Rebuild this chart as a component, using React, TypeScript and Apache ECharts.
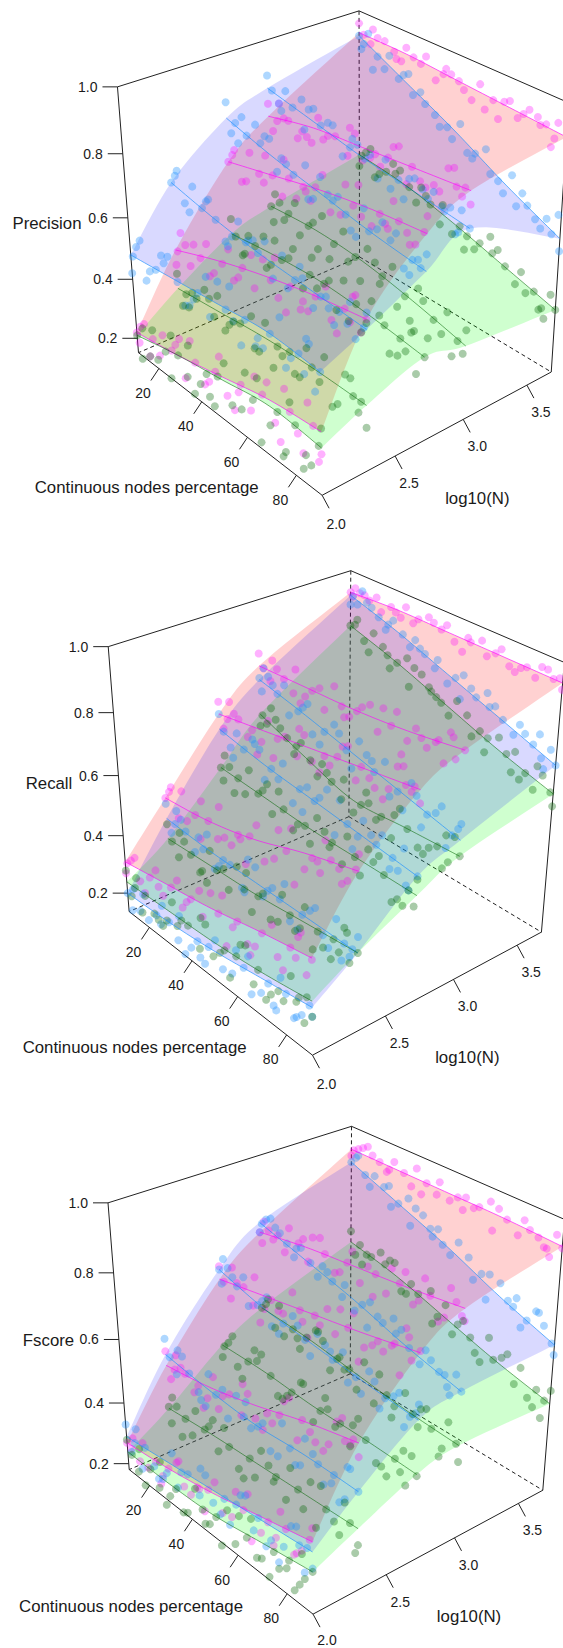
import React, { useEffect, useRef } from "react";
import * as echarts from "echarts";

const logNLevels = [2, 2.3, 2.7, 3, 3.7];
const pctKnots = [10, 30, 50, 70, 90];
const pctTicks = [20, 40, 60, 80];
const logTicks = [2.0, 2.5, 3.0, 3.5];
const valueTicks = [1.0, 0.8, 0.6, 0.4, 0.2];

// percentages of the observed points, one list per run group
const pctListA = [10,12,11,14,18,21,23,16,27,31,33,29,38,42,36,44,47,52,49,55,58,62,64,57,67,72,69,74,78,83,76,81,87,90,85,89];
const pctListB = [11,15,10,13,22,17,25,19,32,28,35,26,41,37,45,39,53,46,50,56,61,65,55,59,71,68,75,66,82,77,85,79,90,88,86,84];
const pctListC = [10,13,16,12,24,20,18,26,30,34,27,37,43,40,35,46,48,54,51,44,63,58,60,66,73,70,65,76,80,84,78,75,89,86,90,83];
const pctListD = [14,10,12,17,19,23,15,27,36,29,32,25,39,44,47,34,55,50,45,57,60,67,62,53,69,74,64,72,85,79,82,77,88,90,84,87];
const pctListE = [12,10,15,18,21,25,16,28,33,30,26,36,45,38,42,48,51,46,56,53,64,59,61,68,75,70,66,73,81,77,86,83,90,87,85,80];
const pctLists = [pctListA, pctListB, pctListC, pctListD, pctListE];

// fitted curves: one row per log10(N) level, at pctKnots
const precisionMagentaCurves = [[.22,.25,.29,.33,.35],[.44,.50,.55,.59,.62],[.66,.70,.74,.77,.79],[.76,.80,.82,.84,.86],[.93,.93,.92,.91,.90]];
const precisionBlueCurves = [[.48,.50,.52,.54,.53],[.66,.63,.61,.60,.59],[.80,.76,.73,.70,.68],[.85,.82,.79,.77,.75],[.92,.84,.76,.67,.59]];
const precisionGreenCurves = [[.21,.25,.28,.31,.30],[.31,.33,.35,.36,.36],[.42,.44,.45,.44,.42],[.46,.47,.46,.43,.39],[.52,.50,.46,.41,.36]];
const recallMagentaCurves = [[.31,.34,.37,.41,.445],[.47,.49,.53,.59,.64],[.68,.71,.74,.77,.80],[.79,.80,.81,.83,.86],[.93,.94,.94,.94,.94]];
const recallBlueCurves = [[.20,.21,.23,.26,.29],[.40,.39,.39,.39,.39],[.63,.60,.58,.56,.54],[.745,.71,.67,.63,.59],[.92,.87,.81,.75,.69]];
const recallGreenCurves = [[.24,.25,.26,.28,.31],[.33,.34,.35,.37,.39],[.50,.49,.48,.48,.48],[.63,.57,.52,.53,.54],[.82,.77,.71,.65,.60]];
const fscoreMagentaCurves = [[.27,.29,.32,.36,.40],[.465,.49,.53,.58,.62],[.67,.70,.73,.76,.795],[.77,.80,.82,.84,.865],[.93,.93,.93,.93,.925]];
const fscoreBlueCurves = [[.29,.31,.33,.35,.37],[.50,.48,.47,.48,.48],[.70,.66,.64,.62,.605],[.80,.76,.72,.67,.63],[.89,.83,.77,.70,.64]];
const fscoreGreenCurves = [[.24,.24,.25,.28,.31],[.325,.34,.35,.36,.37],[.46,.46,.45,.45,.445],[.53,.52,.50,.48,.47],[.635,.60,.55,.50,.46]];

// observed values in percent: one row per log10(N) level
const precisionMagentaPts = [
[22,25,19,27,24,20,28,17,25,31,19,28,27,22,33,24,29,24,35,21,31,25,37,28,33,27,38,22,34,24,40,29,35,28,41,25],
[44,48,39,51,47,42,53,50,50,45,56,43,53,47,59,49,55,49,60,51,57,52,63,48,59,53,64,55,61,55,66,52,62,57,67,58],
[66,71,62,69,68,73,63,66,70,65,75,72,72,67,77,69,74,69,79,71,75,70,80,73,77,72,82,74,78,73,83,75,79,74,84,76],
[76,80,72,78,78,74,82,76,80,75,84,77,81,77,85,78,82,78,86,79,83,78,87,80,84,80,88,81,85,81,89,82,86,82,90,83],
[93,96,91,94,94,92,96,90,93,95,90,92,92,95,89,93,92,94,88,90,91,94,87,92,91,93,86,89,90,93,88,91,90,93,85,92]];
const precisionBluePts = [
[48,55,42,52,49,43,55,47,50,56,44,53,51,45,58,48,52,46,59,50,53,47,60,44,54,48,61,50,54,47,60,51,53,46,59,49],
[66,71,62,69,64,69,60,67,63,58,68,61,62,67,57,64,61,56,66,63,60,65,56,62,60,55,65,58,59,64,54,61,59,54,64,57],
[80,85,76,83,78,83,74,81,76,81,72,78,74,79,70,77,73,78,69,75,71,76,67,74,70,75,66,72,69,74,65,71,68,73,64,70],
[85,89,82,87,83,87,80,85,82,86,78,84,80,84,76,82,79,83,75,81,78,82,74,80,77,81,73,79,76,80,72,78,75,79,71,77],
[92,90,88,94,88,85,90,83,84,87,81,86,80,78,83,75,76,79,73,71,72,75,68,70,67,71,64,62,64,59,67,61,59,55,63,66]];
const precisionGreenPts = [
[21,25,17,14,23,18,27,15,25,20,30,16,26,21,31,17,28,22,34,19,29,23,36,17,31,25,37,20,31,24,37,18,30,22,36,19],
[31,36,26,33,32,37,27,30,33,38,28,35,34,39,29,31,35,40,29,33,36,41,30,27,36,42,30,33,36,30,41,28,36,29,41,32],
[42,47,37,45,43,48,38,40,44,49,38,46,45,50,39,42,45,51,39,47,45,50,38,41,44,49,37,46,43,36,48,40,42,35,47,37],
[46,51,41,49,47,52,42,44,47,41,53,49,46,52,40,43,46,51,39,48,45,50,38,42,43,48,36,45,41,46,34,38,39,44,33,36],
[52,56,48,54,51,47,55,49,50,54,46,52,48,52,43,50,46,50,42,44,44,48,39,41,41,45,37,43,38,42,34,36,36,40,31,33]];
const recallMagentaPts = [
[31,35,27,33,32,28,36,25,34,29,38,31,35,30,40,33,37,32,42,28,39,34,44,36,41,35,46,31,43,37,48,34,44,38,50,41],
[47,52,43,50,48,44,53,41,49,45,54,47,51,46,56,43,53,48,58,50,56,51,61,47,59,54,64,56,62,57,67,59,64,59,69,61],
[68,72,64,71,70,66,74,62,71,67,75,69,73,69,77,64,74,70,78,72,76,72,80,68,77,73,81,75,79,75,83,71,80,76,84,78],
[79,83,76,81,79,76,83,74,80,77,84,82,80,76,85,78,81,77,85,83,82,78,86,75,83,80,87,85,85,81,88,79,86,82,89,84],
[93,95,92,94,93,95,91,94,94,92,96,93,94,96,92,95,94,92,96,90,94,96,92,95,94,92,96,91,94,96,93,92,94,92,96,95]];
const recallBluePts = [
[20,23,17,15,20,16,24,18,21,17,25,14,22,18,26,16,23,19,27,17,25,20,29,18,26,21,30,19,27,22,31,20,29,24,26,21],
[40,45,36,43,40,35,45,38,39,44,34,41,39,34,45,36,39,44,33,41,39,33,45,36,39,44,34,42,39,34,45,37,39,44,33,36],
[63,68,59,65,61,66,56,64,60,55,65,58,59,64,53,61,58,52,64,60,57,51,63,55,56,61,50,58,55,60,49,52,54,48,60,51],
[75,79,71,77,73,77,68,75,71,75,66,73,69,73,64,71,67,72,62,69,65,70,60,68,63,68,58,65,61,66,56,63,59,64,54,62],
[92,95,89,90,89,92,86,91,87,90,84,88,84,87,81,85,81,84,78,83,78,81,75,80,75,78,72,77,72,76,69,74,69,73,66,76]];
const recallGreenPts = [
[24,28,20,17,24,20,28,18,25,21,29,19,25,20,30,22,26,21,31,18,27,22,32,24,28,23,33,20,29,24,34,26,31,26,27,22],
[33,38,29,36,33,29,38,27,34,39,30,36,34,30,40,28,35,40,30,37,36,31,41,34,37,42,32,30,38,33,43,35,39,34,44,31],
[50,55,46,52,50,46,55,44,49,54,45,51,49,44,54,47,48,53,43,50,48,43,53,46,48,53,43,50,48,43,53,41,48,53,42,44],
[63,67,59,61,60,64,56,62,57,61,53,59,54,58,50,56,52,57,48,54,52,47,57,50,53,58,49,55,53,48,58,51,54,59,50,47],
[82,85,79,83,80,83,76,78,77,80,74,78,74,77,71,72,71,74,68,73,68,71,65,67,65,69,62,67,62,66,59,60,60,64,56,58]];
const fscoreMagentaPts = [
[27,30,24,26,28,24,31,22,29,33,25,27,30,26,34,24,32,28,36,30,34,29,38,26,36,31,40,33,38,33,42,30,40,35,44,32],
[47,51,43,49,48,44,52,41,49,45,53,47,51,47,55,44,53,49,57,51,55,51,60,47,58,54,62,56,60,56,64,53,62,58,66,60],
[67,71,63,69,69,65,73,61,70,66,74,68,72,68,76,65,73,69,77,71,75,71,79,67,76,72,80,74,78,74,82,70,80,76,84,77],
[77,81,74,79,79,75,83,77,80,76,84,82,81,77,85,78,82,78,86,84,83,79,87,76,84,80,88,82,85,81,89,79,87,83,90,84],
[93,95,91,94,93,96,91,94,93,95,90,92,93,96,91,89,93,95,91,94,93,96,90,92,93,95,90,88,92,95,90,93,92,95,88,90]];
const fscoreBluePts = [
[29,33,25,22,30,26,34,24,31,27,35,23,32,28,36,25,33,29,37,26,34,30,38,27,35,31,39,28,36,32,40,26,37,32,41,29],
[50,55,46,53,49,45,54,42,48,53,43,51,47,43,52,45,47,52,42,49,47,42,53,44,48,53,43,50,48,43,53,41,48,53,43,45],
[70,74,66,72,68,72,64,70,66,70,62,68,65,69,61,67,64,68,60,66,63,67,59,65,62,66,58,64,61,65,57,63,60,65,56,62],
[80,83,77,82,78,81,75,80,76,79,73,78,74,77,71,76,72,75,69,74,70,73,66,71,67,71,64,69,65,69,62,67,63,67,60,65],
[89,92,87,91,86,88,84,87,83,86,81,84,80,83,78,81,77,80,75,78,74,77,71,75,70,74,67,72,67,71,64,69,64,68,61,71]];
const fscoreGreenPts = [
[24,28,20,17,24,20,28,16,24,20,29,18,24,19,29,21,25,20,30,17,26,21,31,22,28,23,33,19,29,24,34,21,31,27,24,26],
[33,37,28,35,33,29,38,26,34,39,30,36,34,29,39,27,35,40,30,37,35,30,41,33,36,41,31,28,36,31,42,34,37,32,42,29],
[46,51,42,48,46,42,51,39,46,51,41,48,45,41,50,43,45,50,40,47,45,40,50,43,45,50,40,47,45,40,49,38,44,49,39,42],
[53,57,49,55,52,48,57,50,52,56,47,54,51,46,56,49,50,55,45,52,49,44,54,47,48,53,43,51,47,43,52,45,47,52,42,40],
[64,67,60,62,62,65,58,64,60,64,56,62,58,61,54,56,55,59,51,57,53,56,49,51,50,54,47,52,48,52,44,46,46,50,42,40]];

const FONT = '"Liberation Sans", Arial, sans-serif';
const LMIN = 2, LMAX = 3.7, PMIN = 10, PMAX = 90;
const COLORS = [
  { surface: "rgba(255,0,0,0.18)", line: "rgba(255,0,255,0.7)", point: "rgba(255,0,255,0.38)" },
  { surface: "rgba(0,0,255,0.15)", line: "rgba(30,144,255,0.75)", point: "rgba(30,144,255,0.45)" },
  { surface: "rgba(0,255,0,0.19)", line: "rgba(0,100,0,0.6)", point: "rgba(0,100,0,0.42)" },
];
const SURFACE_ORDER = [0, 2, 1];
const PAGE_TEXT_BOTTOM = 1639.5;

// page positions of the box's corners and ticks, used to fit each panel's perspective
type Calib = { tl: number[]; bt: number[]; tr: number[]; bl: number[]; bb: number[]; br: number[]; f: number[]; pct: number[][]; log: number[][]; val: number[][] };
const PANELS = [
  {
    name: "Precision", zmin: 0.15, curves: [precisionMagentaCurves, precisionBlueCurves, precisionGreenCurves],
    pts: [precisionMagentaPts, precisionBluePts, precisionGreenPts],
    cal: { tl: [117.5, 87], bt: [360, 11], tr: [568, 102], bl: [138, 352], bb: [359.5, 257], br: [551, 372], f: [323, 495],
      pct: [[159, 368], [202, 402], [247, 437], [297, 475]], log: [[395, 457], [463, 420], [527, 385]], val: [[122, 154], [128, 218], [133, 280], [137, 338]] } as Calib,
    labelPos: { name: [47, 223], cont: [146.7, 487.7], log: [477.3, 498.3] },
  },
  {
    name: "Recall", zmin: 0.134, curves: [recallMagentaCurves, recallBlueCurves, recallGreenCurves],
    pts: [recallMagentaPts, recallBluePts, recallGreenPts],
    cal: { tl: [108.4, 647], bt: [350, 571], tr: [565, 662], bl: [128.5, 911.8], bb: [350, 816.4], br: [541, 932.3], f: [313.3, 1055],
      pct: [[149, 927.6], [192.8, 961], [237.7, 996.4], [286.5, 1035]], log: [[385, 1016], [453.3, 980], [516.7, 945]], val: [[113.5, 712.5], [118.5, 775.5], [123.2, 835.4], [127.5, 892.8]] } as Calib,
    labelPos: { name: [49, 783], cont: [134.6, 1047], log: [467.3, 1057.3] },
  },
  {
    name: "Fscore", zmin: 0.18, curves: [fscoreMagentaCurves, fscoreBlueCurves, fscoreGreenCurves],
    pts: [fscoreMagentaPts, fscoreBluePts, fscoreGreenPts],
    cal: { tl: [108.4, 1203.3], bt: [351, 1126.5], tr: [565, 1219], bl: [129, 1469.5], bb: [351, 1374], br: [542.3, 1490], f: [313.3, 1613.3],
      pct: [[150, 1485.7], [192.7, 1520], [238.3, 1555.7], [287.3, 1594]], log: [[386, 1575], [454.3, 1538.3], [518.3, 1503.3]], val: [[113.5, 1273], [118.5, 1339], [123.9, 1402.6], [128.2, 1463]] } as Calib,
    labelPos: { name: [48.5, 1340], cont: [131, 1606], log: [469, 1616.7] },
  },
];

function solve(A: number[][], b: number[]) {
  const n = b.length;
  const M = A.map((r, i) => [...r, b[i]]);
  for (let c = 0; c < n; c++) {
    let p = c;
    for (let r = c + 1; r < n; r++) if (Math.abs(M[r][c]) > Math.abs(M[p][c])) p = r;
    [M[c], M[p]] = [M[p], M[c]];
    for (let r = 0; r < n; r++) {
      if (r === c) continue;
      const f = M[r][c] / M[c][c];
      for (let k = c; k <= n; k++) M[r][k] -= f * M[c][k];
    }
  }
  return M.map((r, i) => r[n] / r[i]);
}

function makeProjector(cal: Calib, zmin: number) {
  const corr: number[][] = [
    [LMIN, PMIN, 1, ...cal.tl], [LMAX, PMIN, 1, ...cal.bt], [LMAX, PMAX, 1, ...cal.tr],
    [LMIN, PMIN, zmin, ...cal.bl], [LMAX, PMIN, zmin, ...cal.bb], [LMAX, PMAX, zmin, ...cal.br], [LMIN, PMAX, zmin, ...cal.f],
  ];
  pctTicks.forEach((p, i) => corr.push([LMIN, p, zmin, ...cal.pct[i]]));
  logTicks.slice(1).forEach((l, i) => corr.push([l, PMAX, zmin, ...cal.log[i]]));
  valueTicks.slice(1).forEach((v, i) => corr.push([LMIN, PMIN, v, ...cal.val[i]]));
  const norm = (l: number, p: number, z: number) => [(l - LMIN) / (LMAX - LMIN), (p - PMIN) / (PMAX - PMIN), (z - zmin) / (1 - zmin)];
  const S = 500;
  const rows: number[][] = [];
  const rhs: number[] = [];
  corr.forEach(([l, p, z, x, y]) => {
    const [u, v, w] = norm(l, p, z);
    const X = x / S, Y = y / S;
    rows.push([u, v, w, 1, 0, 0, 0, 0, -X * u, -X * v, -X * w]); rhs.push(X);
    rows.push([0, 0, 0, 0, u, v, w, 1, -Y * u, -Y * v, -Y * w]); rhs.push(Y);
  });
  const n = 11;
  const ATA = Array.from({ length: n }, () => new Array(n).fill(0));
  const ATb = new Array(n).fill(0);
  rows.forEach((r, k) => {
    for (let i = 0; i < n; i++) {
      ATb[i] += r[i] * rhs[k];
      for (let j = 0; j < n; j++) ATA[i][j] += r[i] * r[j];
    }
  });
  const h = solve(ATA, ATb);
  return (l: number, p: number, z: number) => {
    const [u, v, w] = norm(l, p, z);
    const d = h[8] * u + h[9] * v + h[10] * w + 1;
    return [S * (h[0] * u + h[1] * v + h[2] * w + h[3]) / d, S * (h[4] * u + h[5] * v + h[6] * w + h[7]) / d];
  };
}

// smooth drawing path through the given page points
function spline(pts: number[][]) {
  const out: number[][] = [];
  for (let i = 0; i < pts.length - 1; i++) {
    const p0 = pts[Math.max(i - 1, 0)], p1 = pts[i], p2 = pts[i + 1], p3 = pts[Math.min(i + 2, pts.length - 1)];
    for (let s = 0; s < 10; s++) {
      const t = s / 10, t2 = t * t, t3 = t2 * t;
      out.push([0, 1].map((k) => 0.5 * (2 * p1[k] + (p2[k] - p0[k]) * t + (2 * p0[k] - 5 * p1[k] + 4 * p2[k] - p3[k]) * t2 + (3 * p1[k] - p0[k] - 3 * p2[k] + p3[k]) * t3)));
    }
  }
  out.push(pts[pts.length - 1]);
  return out;
}

function buildOption() {
  const series: any[] = [];
  const graphics: any[] = [];
  const ink = "#222";
  const txt = (text: string, x: number, y: number, size: number, align = "center") => ({
    type: "text", x, y, silent: true,
    style: { text, fontSize: size, fontFamily: FONT, fill: "#1a1a1a", textAlign: align, textVerticalAlign: "middle" },
  });
  const seg = (a: number[], b: number[], dash?: number[]) => ({
    type: "line", silent: true,
    shape: { x1: a[0], y1: a[1], x2: b[0], y2: b[1] },
    style: { stroke: ink, lineWidth: 1, lineDash: dash },
  });

  PANELS.forEach((panel, pi) => {
    const proj = makeProjector(panel.cal, panel.zmin);
    const fit = (curves: number[][]) => ({
      rows: curves.map((row, i) => spline(row.map((v, j) => proj(logNLevels[i], pctKnots[j], v)))),
      edge: (j: number) => spline(curves.map((row, i) => proj(logNLevels[i], pctKnots[j], row[j]))),
    });

    SURFACE_ORDER.forEach((c) => {
      const f = fit(panel.curves[c]);
      const last = f.rows.length - 1;
      const outline = [...f.edge(0), ...f.rows[last], ...f.edge(4).reverse(), ...[...f.rows[0]].reverse()];
      series.push({
        type: "custom", silent: true, data: [[0, 0]], z: 1,
        renderItem: (_: any, api: any) => ({
          type: "polygon", shape: { points: outline.map((q) => api.coord(q)) }, style: { fill: COLORS[c].surface },
        }),
      });
    });
    panel.pts.forEach((rows, c) => {
      rows.forEach((row, i) => {
        const pcts = pctLists[(i + c + pi) % pctLists.length];
        series.push({
          type: "scatter", silent: true, z: 2, symbolSize: 8, itemStyle: { color: COLORS[c].point },
          data: row.map((v, k) => proj(logNLevels[i], pcts[k], v / 100)),
        });
      });
    });
    panel.curves.forEach((curves, c) => {
      const f = fit(curves);
      f.rows.forEach((r) => {
        series.push({
          type: "line", silent: true, z: 3, showSymbol: false, data: r,
          lineStyle: { color: COLORS[c].line, width: 0.9 },
        });
      });
    });

    const z0 = panel.zmin;
    const TL = proj(LMIN, PMIN, 1), BT = proj(LMAX, PMIN, 1), TR = proj(LMAX, PMAX, 1);
    const BL = proj(LMIN, PMIN, z0), BB = proj(LMAX, PMIN, z0), BR = proj(LMAX, PMAX, z0), F = proj(LMIN, PMAX, z0);
    graphics.push(seg(TL, BT), seg(BT, TR), seg(TR, BR), seg(BR, F), seg(F, BL), seg(BL, TL));
    graphics.push(seg(BT, BB, [4, 3]), seg(BB, BL, [4, 3]), seg(BB, BR, [4, 3]));
    valueTicks.forEach((v) => {
      const a = proj(LMIN, PMIN, v);
      graphics.push(seg(a, [a[0] - 15, a[1]]), txt(v.toFixed(1), a[0] - 20, a[1], 14, "right"));
    });
    pctTicks.forEach((p) => {
      const a = proj(LMIN, p, z0);
      graphics.push(seg(a, [a[0] - 8, a[1] + 12]), txt(String(p), a[0] - 16, a[1] + 24.5, 14));
    });
    logTicks.forEach((l) => {
      const a = proj(l, PMAX, z0);
      const ly = Math.min(a[1] + (l === 2 ? 29 : 27), PAGE_TEXT_BOTTOM);
      graphics.push(seg(a, [a[0] + 7, a[1] + 13]), txt(l.toFixed(1), a[0] + 14, ly, 14));
    });
    const lp = panel.labelPos;
    graphics.push(txt(panel.name, lp.name[0], lp.name[1], 16.8), txt("Continuous nodes percentage", lp.cont[0], lp.cont[1], 16.8), txt("log10(N)", lp.log[0], lp.log[1], 16.8));
  });

  return {
    animation: false,
    backgroundColor: "#fff",
    grid: { left: 0, right: 0, top: 0, bottom: 0 },
    xAxis: { type: "value", min: 0, max: 563, show: false },
    yAxis: { type: "value", min: 0, max: 1648, inverse: true, show: false },
    series,
    graphic: { elements: graphics },
  };
}

export default function App() {
  const ref = useRef<HTMLDivElement>(null);
  useEffect(() => {
    document.body.style.margin = "0";
    const chart = echarts.init(ref.current!, null, { renderer: "svg" });
    chart.setOption(buildOption() as any);
    return () => chart.dispose();
  }, []);
  return <div ref={ref} style={{ width: 563, height: 1648 }} />;
}
